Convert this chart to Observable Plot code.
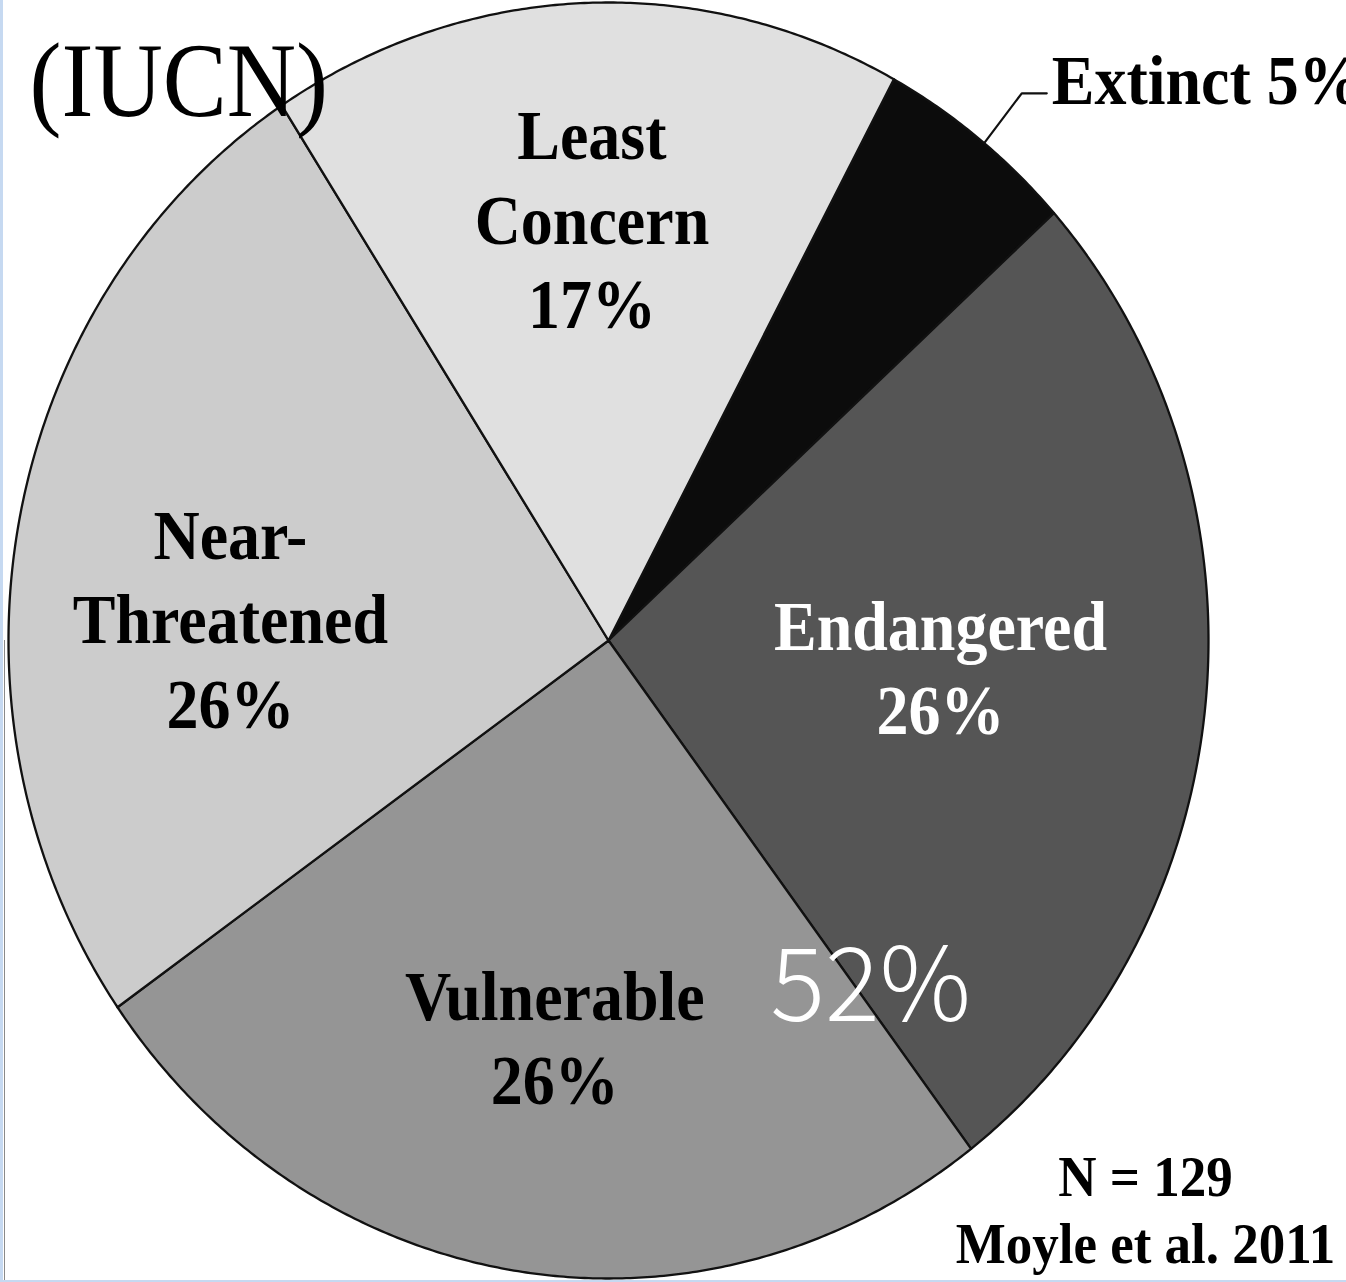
<!DOCTYPE html>
<html>
<head>
<meta charset="utf-8">
<script src="https://cdn.jsdelivr.net/npm/d3@7"></script>
<script src="https://cdn.jsdelivr.net/npm/@observablehq/plot@0.6"></script>
<style>
  html, body { margin: 0; padding: 0; background: #fff; }
  #wrap { position: relative; width: 1346px; height: 1282px; overflow: hidden; background: #fff; }
  #wrap svg { display: block; }
  .edge-left { position: absolute; left: 0; top: 0; width: 3px; height: 1282px; background: #c6d9f1; }
  .edge-left2 { position: absolute; left: 4px; top: 640px; width: 1px; height: 642px; background: #8a8a8a; }
  .edge-bottom { position: absolute; left: 0; bottom: 0; width: 1346px; height: 2px; background: #c6d9f1; }
</style>
</head>
<body>
<div id="wrap"></div>
<script>
// ---------------- data ----------------
const categories = ["Extinct", "Endangered", "Vulnerable", "Near-Threatened", "Least Concern"];
const counts     = [7, 34, 33, 33, 22];          // estimated species counts (N = 129)
const labelNames = ["Extinct", "Endangered", "Vulnerable", "Near-\nThreatened", "Least\nConcern"];
const highlightCats = ["Endangered", "Vulnerable"];   // summed into the big "52%" annotation
const titleText  = "(IUCN)";
const sourceText = "Moyle et al. 2011";

// ---------------- layout / style (not data) ----------------
const W = 1346, H = 1282;
const cx = 608, cy = 640, rx = 600, ry = 638;       // pie centre and radii in pixels
const startDeg = 28.4;
const palette = ["#0c0c0c", "#555555", "#959595", "#cccccc", "#e0e0e0"];
const labelLayout = {
  "Endangered":      {r: 0.555, da: -0.9, color: "#fff"},
  "Vulnerable":      {r: 0.63,  da: -0.7, color: "#000"},
  "Near-Threatened": {r: 0.631, da: -8.0, color: "#000"},
  "Least Concern":   {r: 0.66,  da: -0.1, color: "#000"}
};
const rad = Math.PI / 180;

// ---------------- derived values ----------------
const total = d3.sum(counts);
const pct = counts.map(c => Math.round(c / total * 100));
const sliceText = categories.map((c, i) => i === 0 ? `${labelNames[i]} ${pct[i]}%` : `${labelNames[i]}\n${pct[i]}%`);

const arcs = d3.pie().sort(null).value(d => d)
  .startAngle(startDeg * rad).endAngle(startDeg * rad + 2 * Math.PI)(counts);

const slicePts = [];
arcs.forEach((a, i) => {
  const name = categories[i];
  const n = Math.max(4, Math.ceil((a.endAngle - a.startAngle) / (0.4 * rad)));
  slicePts.push({name, x: 0, y: 0});
  for (let k = 0; k <= n; k++) {
    const t = a.startAngle + (a.endAngle - a.startAngle) * k / n;
    slicePts.push({name, x: Math.sin(t), y: Math.cos(t)});
  }
  slicePts.push({name, x: 0, y: 0});
});

const inside = arcs.map((a, i) => ({name: categories[i], text: sliceText[i], a}))
  .filter(d => labelLayout[d.name])
  .map(d => {
    const L = labelLayout[d.name];
    const m = (d.a.startAngle + d.a.endAngle) / 2 + L.da * rad;
    return {text: d.text, x: L.r * Math.sin(m), y: L.r * Math.cos(m), color: L.color};
  });

// Extinct leader line
const ext = arcs[0];
const extMid = (ext.startAngle + ext.endAngle) / 2 + 0.6 * rad;
const p0 = {x: Math.sin(extMid), y: Math.cos(extMid)};
const p1 = {x: 1.1 * Math.sin(extMid), y: 1.1 * Math.cos(extMid)};
const p2 = {x: p1.x + 25 / rx, y: p1.y};
const leader = [p0, p1, p2];

// 52% annotation at the Endangered / Vulnerable boundary
const hiCount = d3.sum(categories.map((c, i) => highlightCats.includes(c) ? counts[i] : 0));
const boundary = arcs[1].endAngle;
const hiPos = [{x: 0.69 * Math.sin(boundary), y: 0.69 * Math.cos(boundary), text: Math.round(hiCount / total * 100) + "%"}];

const serif = "'Liberation Serif', 'Times New Roman', serif";

const chart = Plot.plot({
  width: W, height: H,
  margin: 0,
  x: {domain: [-cx / rx, (W - cx) / rx], axis: null},
  y: {domain: [-(H - cy) / ry, cy / ry], axis: null},
  color: {domain: categories, range: palette},
  style: {background: "transparent", overflow: "visible"},
  marks: [
    Plot.line(slicePts, {x: "x", y: "y", z: "name", fill: "name", stroke: "#111",
      strokeWidth: 2.3, strokeLinejoin: "round", curve: "linear"}),
    Plot.line(leader, {x: "x", y: "y", stroke: "#111", strokeWidth: 2.2}),
    Plot.text([sliceText[0]], {x: p2.x, y: p2.y, text: d => d, textAnchor: "start", lineAnchor: "middle",
      dx: 5, dy: -12, fontSize: 64, fontWeight: "bold", fontFamily: serif, fill: "#000"}),
    Plot.text(inside, {x: "x", y: "y", text: "text", fill: "color", lineAnchor: "middle", dy: -3,
      fontSize: 64, fontWeight: "bold", fontFamily: serif, lineHeight: 1.2}),
    Plot.text(hiPos, {x: "x", y: "y", text: "text", fill: "#fff", lineAnchor: "middle", dx: 12, dy: -3,
      fontSize: 102, fontWeight: 300, fontFamily: "'Noto Sans CJK JP', 'Noto Sans', sans-serif"}),
    Plot.text([titleText], {frameAnchor: "top-left", textAnchor: "start", lineAnchor: "middle",
      dx: 29, dy: 82, fontSize: 96, fontFamily: serif, fill: "#000"}),
    Plot.text([`N = ${total}\n${sourceText}`], {frameAnchor: "bottom-right", textAnchor: "middle",
      lineAnchor: "middle", dx: -201, dy: -74, fontSize: 53, fontWeight: "bold", fontFamily: serif,
      lineHeight: 1.17, fill: "#000"})
  ]
});

const wrap = document.getElementById("wrap");
wrap.appendChild(chart);
["edge-left", "edge-left2", "edge-bottom"].forEach(c => {
  const d = document.createElement("div"); d.className = c; wrap.appendChild(d);
});

// the source figure's lettering is slightly taller than the font: stretch each text vertically around its centre
const stretch = [1.1, 1.1, 1.0, 1.1, 1.07];
chart.querySelectorAll('g[aria-label="text"]').forEach((g, gi) => {
  const s = stretch[gi] ?? 1;
  if (s === 1) return;
  g.querySelectorAll("text").forEach(t => {
    const b = t.getBBox();
    const c = b.y + b.height / 2;
    const tr = t.getAttribute("transform") || "";
    t.setAttribute("transform", `${tr} translate(0,${c}) scale(1,${s}) translate(0,${-c})`);
  });
});
</script>
</body>
</html>
